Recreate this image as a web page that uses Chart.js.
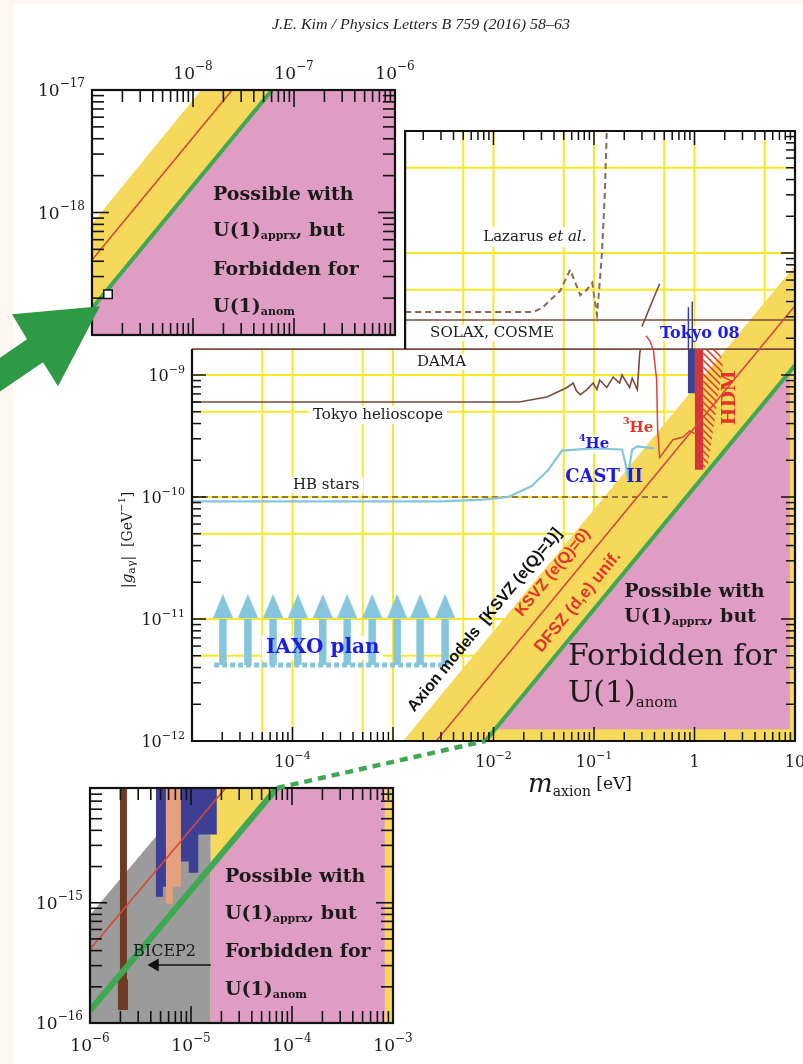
<!DOCTYPE html>
<html>
<head>
<meta charset="utf-8">
<title>Axion photon coupling vs axion mass</title>
<script src="https://cdn.jsdelivr.net/npm/chart.js@4.4.1/dist/chart.umd.min.js"></script>
<style>
  html, body { margin: 0; padding: 0; background: #fdf6f1; }
  #page { position: relative; width: 803px; height: 1064px; overflow: hidden; }
  #paper { position: absolute; left: 13px; top: 4px; width: 790px; height: 1060px; background: #fff; }
  canvas { position: absolute; left: 0; top: 0; }
</style>
</head>
<body>
<div id="page">
  <div id="paper"></div>
  <canvas id="mainChart" width="803" height="1064"></canvas>
  <canvas id="upperInset" width="803" height="1064"></canvas>
  <canvas id="lowerInset" width="803" height="1064"></canvas>
</div>
<script>
// ---------- main panel : m_axion [eV] vs |g_a gamma| [GeV^-1] ----------
const massRange = [1e-5, 10];
const couplingRange = [1e-12, 1e-7];
const raisedCorner = [1.32e-3, 1.63e-9];   // lower left corner of the raised upper-right box
const massTicks = [1e-4, 1e-2, 1e-1, 1, 10];
const massTickText = [['10', '−4'], ['10', '−2'], ['10', '−1'], ['1', ''], ['10', '']];
const couplingTicks = [1e-9, 1e-10, 1e-11, 1e-12];
const couplingTickText = [['10', '−9'], ['10', '−10'], ['10', '−11'], ['10', '−12']];

const bandArea = [[1.26e-3, 1e-12], [10, 7.9e-9], [10, 1e-12]];
const ksvzLine = [[2.7e-3, 1e-12], [10, 3.7e-9]];
const anomLine = [[8.3e-3, 1e-12], [10, 1.2e-9]];
const anomArea = [[0.0104, 1.25e-12], [8.9, 1.07e-9], [8.9, 1.25e-12]];
const damaLine = [[1e-5, 1.63e-9], [10, 1.63e-9]];
const solaxLine = [[1.32e-3, 2.82e-9], [10, 2.82e-9]];
const lazarusCurve = [[1.32e-3, 3.28e-9], [0.025, 3.28e-9], [0.031, 3.6e-9], [0.046, 4.9e-9], [0.058, 7.3e-9],
  [0.073, 4.5e-9], [0.085, 5.0e-9], [0.096, 5.7e-9], [0.107, 3.1e-9], [0.113, 5.2e-9], [0.12, 1e-8],
  [0.128, 3e-8], [0.134, 1e-7]];
const tokyoHelio = [[1e-5, 6.0e-10], [0.018, 6.0e-10], [0.034, 6.6e-10], [0.054, 7.9e-10], [0.062, 8.6e-10],
  [0.067, 7.4e-10], [0.073, 6.9e-10], [0.085, 7.6e-10], [0.098, 8.6e-10], [0.107, 7.6e-10], [0.114, 9.1e-10],
  [0.134, 7.9e-10], [0.155, 9.6e-10], [0.18, 8.6e-10], [0.19, 1.0e-9], [0.226, 7.9e-10], [0.24, 9.4e-10],
  [0.27, 7.6e-10], [0.285, 1.5e-9], [0.29, 1.63e-9]];
const tokyoHelioUpper = [[0.3, 2.5e-9], [0.37, 3.8e-9], [0.45, 5.6e-9]];
const hbStars = [[1e-5, 1e-10], [0.54, 1e-10]];
const castII = [[1e-5, 9.2e-11], [3e-3, 9.2e-11], [8e-3, 9.5e-11], [0.014, 1.0e-10], [0.024, 1.23e-10],
  [0.035, 1.66e-10], [0.048, 2.4e-10], [0.1, 2.5e-10], [0.19, 2.45e-10], [0.205, 1.9e-10], [0.218, 1.45e-10],
  [0.228, 1.9e-10], [0.24, 2.45e-10], [0.27, 2.6e-10], [0.4, 2.5e-10]];
const cast3He = [[0.33, 2.1e-9], [0.36, 1.9e-9], [0.39, 1.6e-9], [0.42, 9.1e-10], [0.43, 3.5e-10],
  [0.45, 2.1e-10], [0.61, 2.95e-10], [0.77, 3.1e-10], [0.9, 3.5e-10], [1.0, 3.3e-10]];
const tokyo08Box = [[0.86, 7.1e-10], [0.86, 1.63e-9], [1.01, 1.63e-9], [1.01, 7.1e-10]];
const tokyo08SpikeA = [[0.87, 1.63e-9], [0.87, 3.6e-9]];
const tokyo08SpikeB = [[0.95, 1.63e-9], [0.95, 4.0e-9]];
const hdmBar = [[1.01, 1.67e-10], [1.01, 1.63e-9], [1.22, 1.63e-9], [1.22, 1.67e-10]];
const hdmHatch = [[1.22, 1.6e-9], [1.75, 1.6e-9], [1.92, 1.25e-9], [1.37, 1.9e-10], [1.22, 1.67e-10]];
const iaxoMass = [2.03e-5, 3.6e-5, 6.4e-5, 1.13e-4, 2.0e-4, 3.5e-4, 6.2e-4, 1.1e-3, 1.86e-3, 3.3e-3];
const iaxoReach = [4.2e-12, 1.0e-11, 1.28e-11];   // base, shaft top, arrow head centre
const iaxoBaseLine = [[1.66e-5, 4.2e-12], [3.4e-3, 4.2e-12]];

// ---------- upper left zoom : 1e-9 .. 1e-6 eV ----------
const upMassRange = [1e-9, 1e-6];
const upCouplingRange = [1e-19, 1e-17];
const upMassTicks = [1e-8, 1e-7, 1e-6];
const upMassTickText = [['10', '−8'], ['10', '−7'], ['10', '−6']];
const upCouplingTicks = [1e-17, 1e-18];
const upCouplingTickText = [['10', '−17'], ['10', '−18']];
const upBandArea = [[1e-9, 8.0e-19], [1.35e-9, 1.1e-18], [1.2e-8, 1e-17], [1e-6, 1e-17], [1e-6, 1e-19], [1e-9, 1e-19]];
const upAnomArea = [[1e-9, 1.65e-19], [6.06e-8, 1e-17], [1e-6, 1e-17], [1e-6, 1e-19], [1e-9, 1e-19]];
const upKsvz = [[1e-9, 4.1e-19], [2.44e-8, 1e-17]];
const upAnom = [[1e-9, 1.65e-19], [6.06e-8, 1e-17]];
const upMarker = [[1.44e-9, 2.15e-19]];

// ---------- lower left zoom : 1e-6 .. 1e-3 eV ----------
const loMassRange = [1e-6, 1e-3];
const loCouplingRange = [1e-16, 9e-15];
const loMassTicks = [1e-6, 1e-5, 1e-4, 1e-3];
const loMassTickText = [['10', '−6'], ['10', '−5'], ['10', '−4'], ['10', '−3']];
const loCouplingTicks = [1e-15, 1e-16];
const loCouplingTickText = [['10', '−15'], ['10', '−16']];
const loBicepArea = [[1e-6, 7.9e-16], [1.14e-5, 9e-15], [1.57e-5, 9e-15], [1.57e-5, 1e-16], [1e-6, 1e-16]];
const loBandArea = [[1.57e-5, 1e-16], [1.57e-5, 9e-15], [1e-3, 9e-15], [1e-3, 1e-16]];
const loAnomArea = [[1.57e-5, 1.99e-15], [7.1e-5, 9e-15], [8.3e-4, 9e-15], [8.3e-4, 1e-16], [1.57e-5, 1e-16]];
const loKsvz = [[1e-6, 4.1e-16], [2.2e-5, 9e-15]];
const loAnom = [[1e-6, 1.27e-16], [7.1e-5, 9e-15]];
const loBrownBar = [[1.98e-6, 9e-15], [2.32e-6, 9e-15], [2.32e-6, 2.3e-16], [2.38e-6, 2.3e-16], [2.38e-6, 1.28e-16],
  [1.89e-6, 1.28e-16], [1.89e-6, 2.3e-16], [1.98e-6, 2.3e-16]];
const loNavyA = [[4.5e-6, 9e-15], [4.5e-6, 1.12e-15], [5.28e-6, 1.12e-15], [5.28e-6, 1.36e-15], [5.65e-6, 1.36e-15], [5.65e-6, 9e-15]];
const loSalmon = [[5.65e-6, 9e-15], [5.65e-6, 9.8e-16], [6.6e-6, 9.8e-16], [6.6e-6, 1.36e-15], [7.95e-6, 1.36e-15], [7.95e-6, 9e-15]];
const loNavyB = [[7.95e-6, 9e-15], [7.95e-6, 2.2e-15], [9.5e-6, 2.2e-15], [9.5e-6, 1.78e-15], [1.18e-5, 1.78e-15],
  [1.18e-5, 3.7e-15], [1.8e-5, 3.7e-15], [1.8e-5, 9e-15]];
const loBicepArrow = [[1.57e-5, 3.04e-16], [4.6e-6, 3.04e-16]];
const loBicepHead = [[4.4e-6, 3.04e-16]];

// ---------- styling ----------
const SERIF = '"DejaVu Serif", serif';
const SANS = '"Liberation Sans", Arial, sans-serif';
const F = (w, s, fam) => `${w} ${s}px ${fam || SERIF}`;
const C = {
  pink: '#e09dc3', band: '#f6d95b', green: '#3ea853', red: '#d8453b', brown: '#7b4a3a',
  lazarus: '#8f6757', cast: '#86c6dd', grid: '#f8e825', navy: '#3d3f95', salmon: '#e5a07d',
  gray: '#9b9b9b', barBrown: '#6f3b27', blue: '#1c1ce6', redText: '#e5322b', hdm: '#d2363c'
};

const pts = a => a.map(p => ({x: p[0], y: p[1]}));
function curve(a, color, width, dash) {
  return {data: pts(a), borderColor: color, borderWidth: width, borderDash: dash || [], pointRadius: 0, fill: false};
}
function area(a, color) {
  return {data: pts(a.concat([a[0]])), borderColor: 'rgba(0,0,0,0)', borderWidth: 1, backgroundColor: color,
    fill: 'shape', pointRadius: 0};
}
function marks(a, style, radius, face, edge, rot) {
  return {data: pts(a), showLine: false, pointStyle: style, pointRadius: radius, pointBackgroundColor: face,
    pointBorderColor: edge || face, pointBorderWidth: 1.5, pointRotation: rot || 0};
}

function hatchPattern() {
  const c = document.createElement('canvas');
  c.width = 7; c.height = 7;
  const g = c.getContext('2d');
  g.strokeStyle = '#e8452c'; g.lineWidth = 1.6;
  g.beginPath();
  g.moveTo(0, 0); g.lineTo(7, 7); g.moveTo(-1, 6); g.lineTo(1, 8); g.moveTo(6, -1); g.lineTo(8, 1);
  g.stroke();
  return g.createPattern(c, 'repeat');
}
function arrowHeadImage(color) {
  const c = document.createElement('canvas');
  c.width = 20; c.height = 24;
  const g = c.getContext('2d');
  g.fillStyle = color;
  g.beginPath(); g.moveTo(10, 0); g.lineTo(20, 24); g.lineTo(0, 24); g.closePath(); g.fill();
  return c;
}

// text with sub/superscripts: parts = [text, font, dy]
function rich(ctx, parts, x, y, align, rot, color) {
  ctx.save();
  ctx.translate(x, y);
  if (rot) ctx.rotate(rot);
  ctx.textBaseline = 'middle'; ctx.textAlign = 'left';
  ctx.fillStyle = color || '#1a1a1a';
  let w = 0;
  for (const p of parts) { ctx.font = p[1]; w += ctx.measureText(p[0]).width; }
  let cx = align === 'center' ? -w / 2 : align === 'right' ? -w : 0;
  for (const p of parts) { ctx.font = p[1]; ctx.fillText(p[0], cx, p[2] || 0); cx += ctx.measureText(p[0]).width; }
  ctx.restore();
  return w;
}
function textWidth(ctx, parts) {
  let w = 0;
  for (const p of parts) { ctx.font = p[1]; w += ctx.measureText(p[0]).width; }
  return w;
}
function powParts(t, size) {
  return t[1] ? [[t[0], F('normal', size)], [t[1], F('normal', Math.round(size * 0.7)), -size * 0.45]]
              : [[t[0], F('normal', size)]];
}

function tickValues(lo, hi, ks) {
  const out = [];
  for (let d = Math.floor(Math.log10(lo)) - 1; d <= Math.ceil(Math.log10(hi)); d++) {
    for (let k = 1; k < 10; k++) {
      if (ks && ks.indexOf(k) < 0) continue;
      const v = k * Math.pow(10, d);
      if (v > lo * 1.001 && v < hi / 1.001) out.push({v, major: k === 1});
    }
  }
  return out;
}
function ticksX(ctx, sx, yPix, dir, lo, hi, len) {
  tickValues(lo, hi).forEach(t => {
    const p = sx.getPixelForValue(t.v);
    ctx.beginPath(); ctx.moveTo(p, yPix); ctx.lineTo(p, yPix + dir * (t.major ? len[0] : len[1])); ctx.stroke();
  });
}
function ticksY(ctx, sy, xPix, dir, lo, hi, len) {
  tickValues(lo, hi).forEach(t => {
    const p = sy.getPixelForValue(t.v);
    ctx.beginPath(); ctx.moveTo(xPix, p); ctx.lineTo(xPix + dir * (t.major ? len[0] : len[1]), p); ctx.stroke();
  });
}
function boxTicks(chart, len) {
  const {ctx, chartArea: a, scales: {x, y}} = chart;
  ctx.save();
  ctx.strokeStyle = '#111'; ctx.lineWidth = 1.6;
  ticksX(ctx, x, a.top, 1, x.min, x.max, len);
  ticksX(ctx, x, a.bottom, -1, x.min, x.max, len);
  ticksY(ctx, y, a.left, 1, y.min, y.max, len);
  ticksY(ctx, y, a.right, -1, y.min, y.max, len);
  ctx.lineWidth = 2.2;
  ctx.strokeRect(a.left, a.top, a.right - a.left, a.bottom - a.top);
  ctx.restore();
}
function placeNotes(chart, notes, withBoxes) {
  const {ctx, scales: {x, y}} = chart;
  notes.forEach(n => {
    const px = x.getPixelForValue(n.at[0]), py = y.getPixelForValue(n.at[1]);
    const rot = n.rot === 'band' ? bandAngle(chart) : (n.rot || 0);
    if (withBoxes) {
      if (!n.bg) return;
      const w = textWidth(ctx, n.parts), h = n.h || 20;
      const x0 = n.align === 'center' ? px - w / 2 : px;
      ctx.fillStyle = '#fff';
      ctx.fillRect(x0 - 4, py - h / 2, w + 8, h);
    } else {
      rich(ctx, n.parts, px, py, n.align, rot, n.color);
    }
  });
}
function bandAngle(chart) {
  const {scales: {x, y}} = chart;
  const dx = x.getPixelForValue(anomLine[1][0]) - x.getPixelForValue(anomLine[0][0]);
  const dy = y.getPixelForValue(anomLine[1][1]) - y.getPixelForValue(anomLine[0][1]);
  return Math.atan2(dy, dx);
}

const B19 = F('bold', 19);
const mainNotes = [
  {at: [7.9e-3, 1.35e-8], parts: [['Lazarus ', F('normal', 15)], ['et al.', F('italic', 15)]], bg: true},
  {at: [2.34e-3, 2.2e-9], parts: [['SOLAX, COSME', F('normal', 15)]], bg: true, h: 16},
  {at: [1.73e-3, 1.28e-9], parts: [['DAMA', F('normal', 15)]], bg: true, h: 16},
  {at: [1.6e-4, 4.7e-10], parts: [['Tokyo helioscope', F('normal', 15)]], bg: true, h: 18},
  {at: [1.01e-4, 1.25e-10], parts: [['HB stars', F('normal', 15)]], bg: true, h: 16},
  {at: [0.454, 2.17e-9], parts: [['Tokyo 08', F('bold', 16)]], color: C.blue, bg: true, h: 16},
  {at: [0.1, 2.7e-10], parts: [['4', F('bold', 10), -6], ['He', F('bold', 15)]], color: C.blue, align: 'center', bg: true, h: 18},
  {at: [0.274, 3.7e-10], parts: [['3', F('bold', 10), -6], ['He', F('bold', 15)]], color: C.redText, align: 'center', bg: true, h: 18},
  {at: [0.126, 1.46e-10], parts: [['CAST II', F('bold', 18)]], color: C.blue, align: 'center'},
  {at: [2.25, 6.5e-10], parts: [['HDM', F('bold', 19)]], color: C.redText, align: 'center', rot: -Math.PI / 2},
  {at: [2.0e-4, 5.8e-12], parts: [['IAXO plan', F('bold', 20)]], color: C.blue, align: 'center', bg: true, h: 24},
  {at: [8.2e-3, 9.8e-12], parts: [['Axion models  [KSVZ (e(Q)=1)]', F('bold', 16, SANS)]], align: 'center', rot: 'band', color: '#111'},
  {at: [0.039, 2.4e-11], parts: [['KSVZ (e(Q)=0)', F('bold', 16, SANS)]], align: 'center', rot: 'band', color: C.redText},
  {at: [0.069, 1.38e-11], parts: [['DFSZ (d,e) unif.', F('bold', 17, SANS)]], align: 'center', rot: 'band', color: C.redText},
  {at: [0.2, 1.66e-11], parts: [['Possible with', B19]]},
  {at: [0.2, 1.04e-11], parts: [['U(1)', B19], ['apprx', F('bold', 11), 5], [', but', B19]]},
  {at: [0.055, 4.9e-12], parts: [['Forbidden for', F('normal', 30)]]},
  {at: [0.055, 2.4e-12], parts: [['U(1)', F('normal', 30)], ['anom', F('normal', 15), 8]]}
];
const upNotes = [
  {at: [1.58e-8, 1.4e-18], parts: [['Possible with', B19]]},
  {at: [1.58e-8, 7.0e-19], parts: [['U(1)', B19], ['apprx', F('bold', 11), 5], [', but', B19]]},
  {at: [1.58e-8, 3.4e-19], parts: [['Forbidden for', B19]]},
  {at: [1.58e-8, 1.7e-19], parts: [['U(1)', B19], ['anom', F('bold', 11), 5]]}
];
const loNotes = [
  {at: [2.17e-5, 1.65e-15], parts: [['Possible with', B19]]},
  {at: [2.17e-5, 8.1e-16], parts: [['U(1)', B19], ['apprx', F('bold', 11), 5], [', but', B19]]},
  {at: [2.17e-5, 3.9e-16], parts: [['Forbidden for', B19]]},
  {at: [2.17e-5, 1.88e-16], parts: [['U(1)', B19], ['anom', F('bold', 11), 5]]},
  {at: [2.67e-6, 3.9e-16], parts: [['BICEP2', F('normal', 16)]]}
];

function makeChart(id, pad, xr, yr, sets, plugin) {
  sets.forEach((d, i) => { d.order = sets.length - i; d.type = 'line'; });
  return new Chart(document.getElementById(id), {
    type: 'line',
    data: {datasets: sets},
    options: {
      responsive: false, animation: false, devicePixelRatio: 1, events: [],
      layout: {padding: pad},
      plugins: {legend: {display: false}, tooltip: {enabled: false}},
      elements: {line: {tension: 0}},
      scales: {
        x: {type: 'logarithmic', min: xr[0], max: xr[1], display: false},
        y: {type: 'logarithmic', min: yr[0], max: yr[1], display: false}
      }
    },
    plugins: [plugin]
  });
}

// ---------- main chart ----------
const iaxoHead = arrowHeadImage(C.cast);
const mainSets = [
  area(bandArea, C.band),
  area(anomArea, C.pink),
  area(hdmHatch, hatchPattern())
];
iaxoMass.forEach(m => mainSets.push(curve([[m, iaxoReach[0]], [m, iaxoReach[1]]], C.cast, 7.5)));
mainSets.push(curve(iaxoBaseLine, C.cast, 5, [5, 3]));
mainSets.push(marks(iaxoMass.map(m => [m, iaxoReach[2]]), iaxoHead, 5, C.cast));
mainSets.push(
  curve(hbStars, C.brown, 1.6, [6, 4]),
  curve(castII, C.cast, 2.2),
  curve(tokyoHelio, C.brown, 1.6),
  curve(tokyoHelioUpper, C.brown, 1.6),
  curve(damaLine, C.brown, 1.6),
  curve(solaxLine, C.brown, 1.6),
  curve(lazarusCurve, C.lazarus, 2, [6, 4]),
  area(tokyo08Box, C.navy),
  curve(tokyo08SpikeA, C.navy, 1.5),
  curve(tokyo08SpikeB, C.navy, 1.5),
  area(hdmBar, C.hdm),
  curve(cast3He, C.red, 1.5),
  curve(ksvzLine, C.red, 1.6),
  curve(anomLine, C.green, 4)
);

function lShape(ctx, a, cx, cy) {
  ctx.beginPath();
  ctx.moveTo(a.left, a.bottom); ctx.lineTo(a.left, cy); ctx.lineTo(cx, cy); ctx.lineTo(cx, a.top);
  ctx.lineTo(a.right, a.top); ctx.lineTo(a.right, a.bottom); ctx.closePath();
}

const mainDecor = {
  id: 'mainDecor',
  beforeDatasetsDraw(chart) {
    const {ctx, chartArea: a, scales: {x, y}} = chart;
    const cx = x.getPixelForValue(raisedCorner[0]), cy = y.getPixelForValue(raisedCorner[1]);
    ctx.save();
    lShape(ctx, a, cx, cy);
    ctx.clip();
    ctx.strokeStyle = C.grid; ctx.lineWidth = 2;
    tickValues(x.min, x.max, [1, 5]).forEach(t => {
      const p = x.getPixelForValue(t.v);
      ctx.beginPath(); ctx.moveTo(p, a.top); ctx.lineTo(p, a.bottom); ctx.stroke();
    });
    tickValues(y.min, y.max, [1, 5]).forEach(t => {
      const p = y.getPixelForValue(t.v);
      ctx.beginPath(); ctx.moveTo(a.left, p); ctx.lineTo(a.right, p); ctx.stroke();
    });
    placeNotes(chart, mainNotes, true);
    ctx.restore();
  },
  afterDatasetsDraw(chart) {
    placeNotes(chart, mainNotes, false);
  },
  afterDraw(chart) {
    const {ctx, chartArea: a, scales: {x, y}} = chart;
    const cx = x.getPixelForValue(raisedCorner[0]), cy = y.getPixelForValue(raisedCorner[1]);
    ctx.save();
    ctx.strokeStyle = '#111'; ctx.lineWidth = 1.5;
    const len = [14, 9];
    ticksX(ctx, x, a.bottom, -1, x.min, x.max, len);
    ticksX(ctx, x, a.top, 1, raisedCorner[0], x.max, len);
    ticksY(ctx, y, a.left, 1, y.min, raisedCorner[1], len);
    ticksY(ctx, y, a.right, -1, y.min, y.max, len);
    ctx.lineWidth = 2.2;
    ctx.beginPath();
    ctx.moveTo(a.left, cy); ctx.lineTo(a.left, a.bottom); ctx.lineTo(a.right, a.bottom);
    ctx.lineTo(a.right, a.top); ctx.lineTo(cx, a.top); ctx.lineTo(cx, cy);
    ctx.stroke();
    massTicks.forEach((v, i) => rich(ctx, powParts(massTickText[i], 16), x.getPixelForValue(v), a.bottom + 22, 'center'));
    couplingTicks.forEach((v, i) => rich(ctx, powParts(couplingTickText[i], 16), a.left - 7, y.getPixelForValue(v) + 2, 'right'));
    rich(ctx, [['m', F('italic', 26)], ['axion', F('normal', 14), 7], [' [eV]', F('normal', 17)]], 580, a.bottom + 44, 'center');
    rich(ctx, [['|', F('normal', 15)], ['g', F('italic', 15)], ['aγ', F('normal', 11), 4], ['|  [GeV', F('normal', 14)],
      ['−1', F('normal', 10), -6], [']', F('normal', 14)]], a.left - 64, 540, 'center', -Math.PI / 2);
    ctx.restore();
  }
};
const mainChart = makeChart('mainChart', {left: 192, top: 131, right: 8, bottom: 323},
  massRange, couplingRange, mainSets, mainDecor);

// ---------- upper left zoom ----------
const upDecor = {
  id: 'upDecor',
  afterDatasetsDraw(chart) { placeNotes(chart, upNotes, false); },
  afterDraw(chart) {
    const {ctx, chartArea: a, scales: {x, y}} = chart;
    boxTicks(chart, [17, 12]);
    upMassTicks.forEach((v, i) => rich(ctx, powParts(upMassTickText[i], 17), x.getPixelForValue(v), a.top - 15, 'center'));
    upCouplingTicks.forEach((v, i) => rich(ctx, powParts(upCouplingTickText[i], 17), a.left - 7, y.getPixelForValue(v) + 2, 'right'));
  }
};
const upperInset = makeChart('upperInset', {left: 92, top: 90, right: 408, bottom: 729}, upMassRange, upCouplingRange, [
  area(upBandArea, C.band),
  area(upAnomArea, C.pink),
  curve(upKsvz, C.red, 1.6),
  curve(upAnom, C.green, 4),
  marks(upMarker, 'rect', 6, '#fff', '#111')
], upDecor);

// ---------- lower left zoom, plus connecting marks ----------
const loDecor = {
  id: 'loDecor',
  afterDatasetsDraw(chart) { placeNotes(chart, loNotes, false); },
  afterDraw(chart) {
    const {ctx, chartArea: a, scales: {x, y}} = chart;
    boxTicks(chart, [17, 12]);
    loMassTicks.forEach((v, i) => rich(ctx, powParts(loMassTickText[i], 17), x.getPixelForValue(v), a.bottom + 24, 'center'));
    loCouplingTicks.forEach((v, i) => rich(ctx, powParts(loCouplingTickText[i], 17), a.left - 7, y.getPixelForValue(v) + 2, 'right'));

    // dashed link from the top of this zoom's green line to the main panel's green line
    const mx = mainChart.scales.x, my = mainChart.scales.y;
    ctx.save();
    ctx.strokeStyle = C.green; ctx.lineWidth = 4.5; ctx.setLineDash([8, 6]);
    ctx.beginPath();
    ctx.moveTo(x.getPixelForValue(loAnom[1][0]), y.getPixelForValue(loAnom[1][1]));
    ctx.lineTo(mx.getPixelForValue(anomLine[0][0]), my.getPixelForValue(anomLine[0][1]));
    ctx.stroke();
    ctx.restore();

    // big green arrow pointing at the small square of the upper zoom
    const ux = upperInset.scales.x, uy = upperInset.scales.y;
    const tx = ux.getPixelForValue(upMarker[0][0]) - 8, ty = uy.getPixelForValue(upMarker[0][1]) + 12;
    const shape = [[0, 0], [-88, 8], [-73, 33], [-139, 78], [-123, 101], [-57, 56], [-42, 80]];
    ctx.save();
    ctx.fillStyle = '#2f9a45';
    ctx.beginPath();
    shape.forEach((p, i) => i ? ctx.lineTo(tx + p[0], ty + p[1]) : ctx.moveTo(tx + p[0], ty + p[1]));
    ctx.closePath(); ctx.fill();
    ctx.restore();

    // running head of the journal page
    ctx.save();
    ctx.font = 'italic 14px "Liberation Serif", serif';
    ctx.fillStyle = '#222'; ctx.textBaseline = 'middle';
    const head = 'J.E. Kim / Physics Letters B 759 (2016) 58–63';
    const w = ctx.measureText(head).width;
    ctx.translate(272, 25); ctx.scale(298 / w, 1);
    ctx.fillText(head, 0, 0);
    ctx.restore();
  }
};
const lowerInset = makeChart('lowerInset', {left: 90, top: 788, right: 410, bottom: 41}, loMassRange, loCouplingRange, [
  area(loBicepArea, C.gray),
  area(loBandArea, C.band),
  area(loAnomArea, C.pink),
  area(loBrownBar, C.barBrown),
  area(loNavyA, C.navy),
  area(loSalmon, C.salmon),
  area(loNavyB, C.navy),
  curve(loKsvz, C.red, 1.6),
  curve(loBicepArrow, '#111', 1.5),
  marks(loBicepHead, 'triangle', 6, '#111', '#111', 270),
  curve(loAnom, C.green, 6)
], loDecor);
</script>
</body>
</html>
